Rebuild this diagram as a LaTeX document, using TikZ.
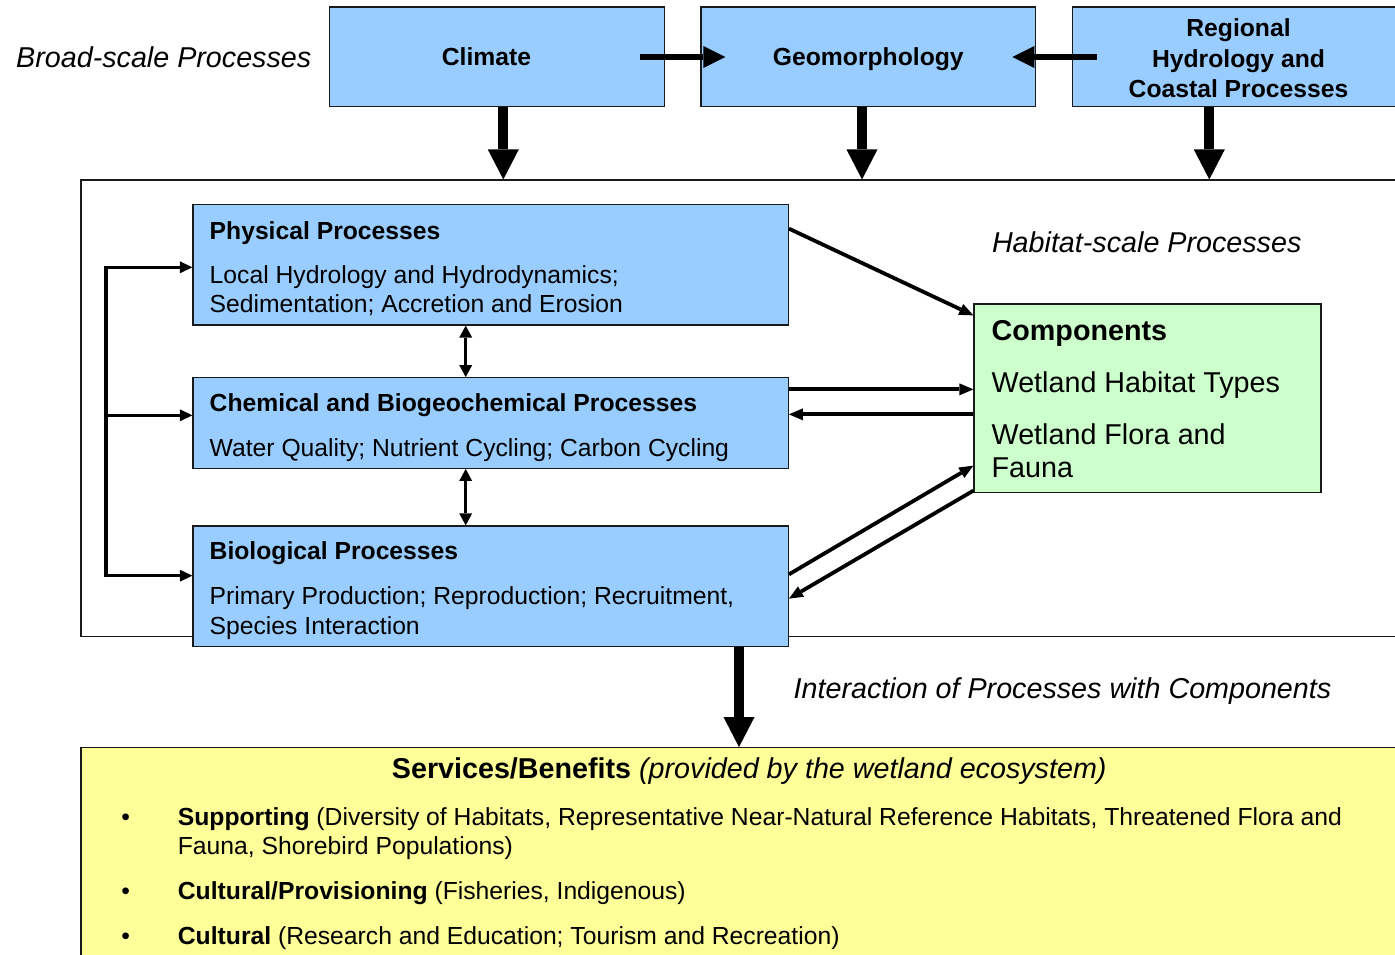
\documentclass[tikz,border=0pt]{standalone}
\usepackage{fontspec}
\setmainfont{Liberation Sans}
\usetikzlibrary{arrows.meta,fit,calc}
\definecolor{boxblue}{HTML}{99CCFF}
\definecolor{boxgreen}{HTML}{CCFFCC}
\definecolor{boxyellow}{HTML}{FFFF99}
\definecolor{edgecol}{HTML}{1A1A1A}
\tikzset{
  box/.style={draw=edgecol, line width=1.3pt, inner sep=0pt},
  bluebox/.style={box, fill=boxblue},
  greenbox/.style={box, fill=boxgreen},
  yellowbox/.style={box, fill=boxyellow},
  framebox/.style={draw=edgecol, line width=1.1pt, inner sep=0pt},
  txt/.style={inner sep=0pt, anchor=base west, font=\fontsize{24.7}{29}\selectfont},
  txtb/.style={txt, font=\fontsize{24.7}{29}\selectfont\bfseries},
  txtl/.style={txt, font=\fontsize{28.7}{33}\selectfont},
  txtlb/.style={txt, font=\fontsize{28.7}{33}\selectfont\bfseries},
  txtli/.style={txt, font=\fontsize{28.7}{33}\selectfont\itshape},
  hugearrow/.style={line width=10pt, -{Triangle[length=30pt,width=31pt,line width=0pt]}},
  midarrow/.style={line width=6pt, -{Triangle[length=22pt,width=22pt,line width=0pt]}},
  thinarrow/.style={line width=3.3pt, -{Triangle[length=12.5pt,width=12pt,line width=0pt]}},
  twoway/.style={line width=3.3pt, {Triangle[length=12pt,width=13pt,line width=0pt]}-{Triangle[length=12pt,width=13pt,line width=0pt]}},
  diagarrow/.style={line width=3.8pt, -{Triangle[length=14pt,width=12pt,line width=0pt]}},
}
\begin{document}
\begin{tikzpicture}[x=1pt,y=-1pt]
\useasboundingbox (0,0) rectangle (1395,955);
\clip (0,0) rectangle (1395,955);

% frames
\node[framebox, fit={(81,180) (1420,636.7)}] (habitat) {};
\node[yellowbox, fit={(81,747.7) (1420,990)}] (services) {};

% top boxes
\node[bluebox, fit={(329.5,7) (664.3,106.7)}] (climate) {};
\node[bluebox, fit={(701,7) (1035.7,106.7)}] (geo) {};
\node[bluebox, fit={(1072.7,7) (1410,106.7)}] (regional) {};

% process boxes
\node[bluebox, fit={(193,204.5) (788.3,325)}] (phys) {};
\node[bluebox, fit={(193,377.7) (788.3,468.3)}] (chem) {};
\node[bluebox, fit={(193,526) (788.3,646.5)}] (bio) {};
\node[greenbox, fit={(974,304) (1321,492.7)}] (comp) {};

% texts
\node[txtli] (broad) at (16,67.5) {Broad-scale Processes};
\node[txtb] (climtxt) at (441.7,66) {Climate};
\node[txtb, anchor=base] (geotxt) at (868.3,66) {Geomorphology};
\node[txtb, anchor=base] (reg1) at (1238.5,37) {Regional};
\node[txtb, anchor=base] (reg2) at (1238.5,67.5) {Hydrology and};
\node[txtb, anchor=base] (reg3) at (1238.5,97.5) {Coastal Processes};

\node[txtli] (habtxt) at (991.8,252.7) {Habitat-scale Processes};

\node[txtb] (phys1) at (209.5,239) {Physical Processes};
\node[txt] (phys2) at (209.5,283.3) {Local Hydrology and Hydrodynamics;};
\node[txt] (phys3) at (209.5,312.7) {Sedimentation; Accretion and Erosion};

\node[txtb] (chem1) at (209.5,411.7) {Chemical and Biogeochemical Processes};
\node[txt] (chem2) at (209.5,456.3) {Water Quality; Nutrient Cycling; Carbon Cycling};

\node[txtb] (bio1) at (209.5,559.7) {Biological Processes};
\node[txt] (bio2) at (209.5,604.3) {Primary Production; Reproduction; Recruitment,};
\node[txt] (bio3) at (209.5,634.3) {Species Interaction};

\node[txtlb] (comp1) at (991.5,340.3) {Components};
\node[txtl] (comp2) at (991.5,392.7) {Wetland Habitat Types};
\node[txtl] (comp3) at (991.5,444.3) {Wetland Flora and};
\node[txtl] (comp4) at (991.5,477.7) {Fauna};

\node[txtli] (inttxt) at (793.5,698.3) {Interaction of Processes with Components};

\node[txtlb] (servtitle) at (391.7,778.3) {Services/Benefits {\mdseries\itshape (provided by the wetland ecosystem)}};
\node[txt, anchor=base] (bul1) at (125.7,825) {•};
\node[txt, anchor=base] (bul2) at (125.7,899.5) {•};
\node[txt, anchor=base] (bul3) at (125.7,944.5) {•};
\node[txt] (serv1) at (177.7,825) {\textbf{Supporting} (Diversity of Habitats, Representative Near-Natural Reference Habitats, Threatened Flora and};
\node[txt] (serv1b) at (177.7,854.5) {Fauna, Shorebird Populations)};
\node[txt] (serv2) at (177.7,899.5) {\textbf{Cultural/Provisioning} (Fisheries, Indigenous)};
\node[txt] (serv3) at (177.7,944.5) {\textbf{Cultural} (Research and Education; Tourism and Recreation)};

% helper coordinates
\coordinate (ax1) at (503.3,0);
\coordinate (ax2) at (862,0);
\coordinate (ax3) at (1209.3,0);
\coordinate (ax4) at (739,0);
\coordinate (dax) at (465.7,0);
\coordinate (topy) at (0,57);
\coordinate (fb1) at (106,267.3);
\coordinate (fb2) at (106,415.3);
\coordinate (fb3) at (106,575.7);

% top horizontal arrows
\draw[midarrow] ($(climate.east |- topy)+(-25,0)$) -- ($(geo.west |- topy)+(25,0)$);
\draw[midarrow] ($(regional.west |- topy)+(25,0)$) -- ($(geo.east |- topy)+(-24,0)$);

% down arrows
\draw[hugearrow] (climate.south -| ax1) -- (habitat.north -| ax1);
\draw[hugearrow] (geo.south -| ax2) -- (habitat.north -| ax2);
\draw[hugearrow] (regional.south -| ax3) -- (habitat.north -| ax3);
\draw[hugearrow] (bio.south -| ax4) -- (services.north -| ax4);

% feedback arrows
\draw[thinarrow] (fb3) -- (fb1) -- (fb1 -| phys.west);
\draw[thinarrow] (fb1) -- (fb3) -- (fb3 -| bio.west);
\draw[thinarrow] (fb2) -- (fb2 -| chem.west);

% vertical two-way arrows
\draw[twoway] (phys.south -| dax) -- (chem.north -| dax);
\draw[twoway] (chem.south -| dax) -- (bio.north -| dax);

% process <-> components
\draw[diagarrow] ($(phys.north east)+(0,24.8)$) -- ($(comp.north west)+(0,12)$);
\draw[diagarrow] ($(chem.north east)+(0,12.3)$) -- ($(comp.west |- chem.north)+(0,12.3)$);
\draw[diagarrow] ($(comp.west |- chem.north)+(0,37.3)$) -- ($(chem.north east)+(0,37.3)$);
\draw[diagarrow] ($(bio.north east)+(0,49)$) -- ($(comp.south west)+(0,-27.7)$);
\draw[diagarrow] ($(comp.south west)+(0,-2.7)$) -- ($(bio.north east)+(0,73.3)$);
\end{tikzpicture}
\end{document}
